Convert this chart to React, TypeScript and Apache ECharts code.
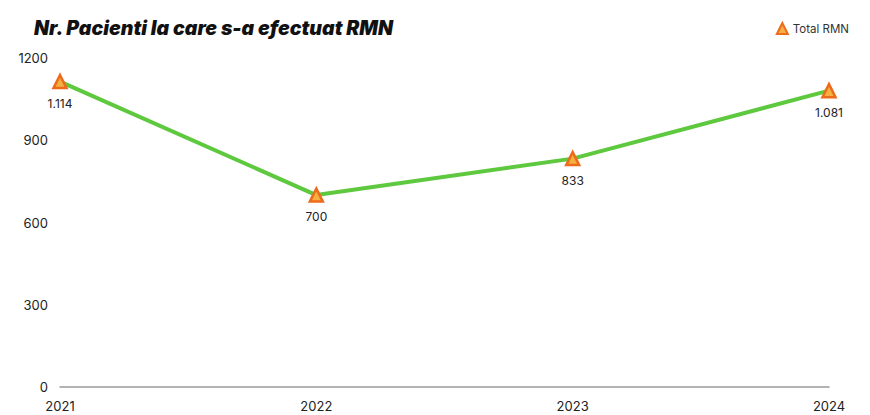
import React, { useEffect, useRef } from "react";
import * as echarts from "echarts";

const years = ["2021", "2022", "2023", "2024"];
const totalRMN = [1114, 700, 833, 1081];
const yTicks = [0, 300, 600, 900, 1200];

const fmt = (v: number) => String(v).replace(/\B(?=(\d{3})+(?!\d))/g, ".");

export default function App() {
  const ref = useRef<HTMLDivElement>(null);
  useEffect(() => {
    if (!ref.current) return;
    const chart = echarts.init(ref.current, undefined, { renderer: "svg" });
    chart.setOption({
      animation: false,
      backgroundColor: "#ffffff",
      title: {
        text: "Nr. Pacienti la care s-a efectuat RMN",
        left: 29,
        top: 13,
        textStyle: {
          fontFamily: "Inter",
          fontStyle: "italic",
          fontWeight: 900,
          fontSize: 19.5,
          color: "#111111",
        },
      },
      legend: {
        right: 16,
        top: 17,
        itemWidth: 11,
        itemHeight: 11,
        itemGap: 6,
        textStyle: { fontFamily: "Inter", fontSize: 11.5, color: "#333" },
        data: [{ name: "Total RMN", icon: "triangle" }],
      },
      grid: { left: 60, right: 41, top: 58, bottom: 28, containLabel: false },
      xAxis: {
        type: "category",
        data: years,
        boundaryGap: false,
        axisLine: { show: true, lineStyle: { color: "#999999", width: 1.5 } },
        axisTick: { show: false },
        axisLabel: { margin: 12, fontFamily: "Inter", fontSize: 13, color: "#222" },
      },
      yAxis: {
        type: "value",
        min: yTicks[0],
        max: yTicks[yTicks.length - 1],
        interval: 300,
        axisLine: { show: false },
        axisTick: { show: false },
        splitLine: { show: false },
        axisLabel: {
          margin: 12,
          fontFamily: "Inter",
          fontSize: 13,
          color: "#222",
          formatter: (v: number) => String(v),
        },
      },
      series: [
        {
          name: "Total RMN",
          type: "line",
          data: totalRMN,
          symbol: "triangle",
          symbolSize: 13,
          itemStyle: { color: "#f6b042", borderColor: "#ec6c1c", borderWidth: 2.5 },
          lineStyle: { color: "#5ec83f", width: 4 },
          label: {
            show: true,
            position: "bottom",
            distance: 8,
            formatter: (p: any) => fmt(p.value),
            fontFamily: "Inter",
            fontSize: 12,
            color: "#222",
          },
        },
      ],
    });
    return () => chart.dispose();
  }, []);
  return <div ref={ref} style={{ width: 870, height: 415, position: "absolute", left: 0, top: 0 }} />;
}
